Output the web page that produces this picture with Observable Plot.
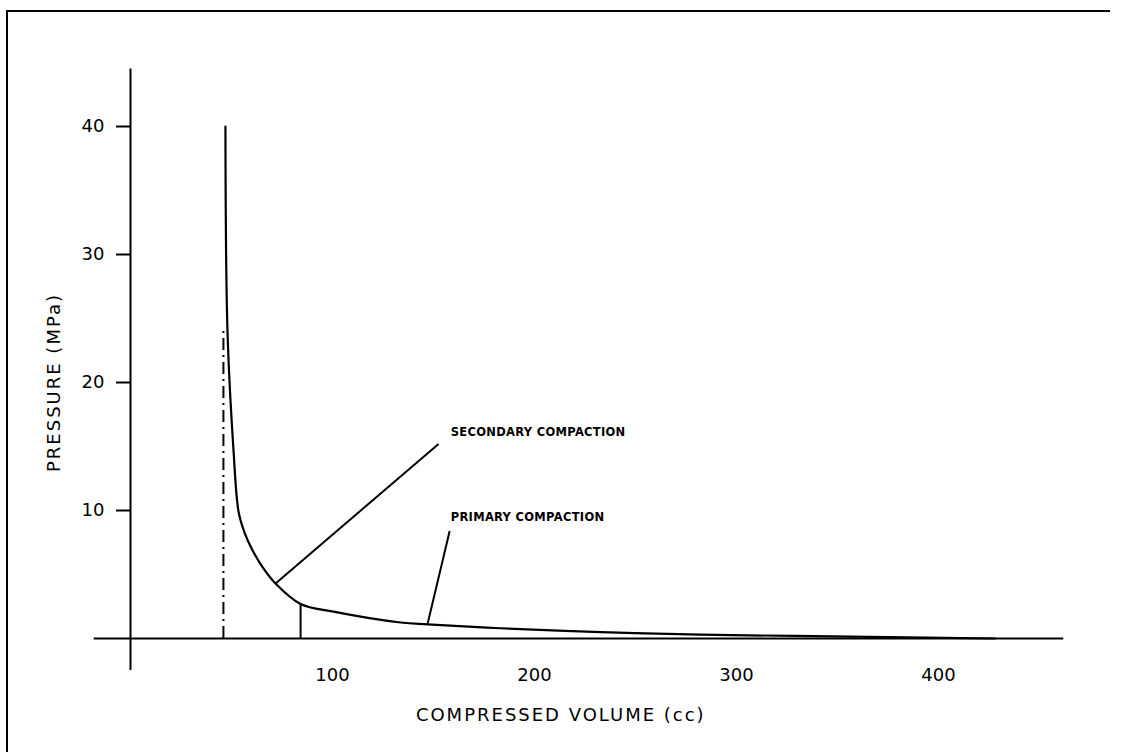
<!DOCTYPE html>
<html>
<head>
<meta charset="utf-8">
<script src="https://cdn.jsdelivr.net/npm/d3@7"></script>
<script src="https://cdn.jsdelivr.net/npm/@observablehq/plot@0.6"></script>
<style>
  html, body { margin: 0; padding: 0; background: #fff; overflow: hidden; }
  #wrap { width: 1128px; height: 752px; overflow: hidden; }
  svg g.biglabel text { letter-spacing: 2px; }
  svg g.note text { letter-spacing: 0.3px; }
</style>
</head>
<body>
<div id="wrap"></div>
<script>
// Compression curve
const volume   = [47, 48, 51, 53.5, 56.4, 60.4, 65.3, 71.8, 84.2, 100.5, 133.7, 147, 183, 233, 282, 356, 428];
const pressure = [40, 24.1, 14.7, 9.9, 8.3, 6.9, 5.6, 4.3, 2.7, 2.1, 1.25, 1.1, 0.8, 0.5, 0.3, 0.15, 0];

// Tick values
const xTicks = [100, 200, 300, 400];
const yTicks = [10, 20, 30, 40];

// Axis labels
const xLabel = "COMPRESSED VOLUME (cc)";
const yLabel = "PRESSURE (MPa)";

// Markers: dash-dot limit and small vertical marker
const limitVolume = [46];
const limitTop = [24.1];
const markVolume = [84.2];
const markTop = [2.7];

// Annotations
const noteText = ["SECONDARY COMPACTION", "PRIMARY COMPACTION"];
const noteCurveX = [71.8, 147];
const noteCurveY = [4.3, 1.1];
const noteEndX = [152.5, 158];
const noteEndY = [15.2, 8.4];
const noteTextX = [158.5, 158.5];
const noteTextY = [16.1, 9.45];

const curve = volume.map((v, i) => ({v, p: pressure[i]}));
const notes = noteText.map((t, i) => ({t, x1: noteCurveX[i], y1: noteCurveY[i], x2: noteEndX[i], y2: noteEndY[i], tx: noteTextX[i], ty: noteTextY[i]}));

const chart = Plot.plot({
  width: 1128,
  height: 752,
  marginLeft: 130,
  marginBottom: 114,
  marginTop: 60,
  marginRight: 60,
  x: {domain: [0, 400], range: [130, 938]},
  y: {domain: [0, 40], range: [638, 126]},
  style: {fontFamily: "DejaVu Sans", fontSize: "18px", background: "#fff", color: "#000"},
  marks: [
    // axis lines
    Plot.ruleX([0], {y1: -2.5, y2: 44.5, stroke: "#000", strokeWidth: 2}),
    Plot.ruleY([0], {x1: -18, x2: 462, stroke: "#000", strokeWidth: 2}),
    Plot.axisY(yTicks, {tickSize: 14, tickPadding: 12, label: null, fontSize: 18, strokeWidth: 2}),
    Plot.axisX(xTicks, {tickSize: 0, tickPadding: 30, label: null, fontSize: 18}),
    // dash-dot limit
    Plot.ruleX(limitVolume, {x: d => d, y1: 0, y2: (d, i) => limitTop[i], stroke: "#000", strokeWidth: 2, strokeDasharray: "12,5,2,5"}),
    // small marker
    Plot.ruleX(markVolume, {x: d => d, y1: 0, y2: (d, i) => markTop[i], stroke: "#000", strokeWidth: 2}),
    // curve
    Plot.line(curve, {x: "v", y: "p", curve: "catmull-rom", stroke: "#000", strokeWidth: 2.2}),
    // leaders
    Plot.link(notes, {x1: "x1", y1: "y1", x2: "x2", y2: "y2", stroke: "#000", strokeWidth: 2}),
    Plot.text(notes, {x: "tx", y: "ty", text: "t", textAnchor: "start", fontSize: 11.5, fontWeight: "bold", className: "note"}),
    // axis labels
    Plot.text([xLabel], {x: 213, y: -6, text: d => d, fontSize: 18, className: "biglabel"}),
    Plot.text([yLabel], {x: -38, y: 20, text: d => d, rotate: -90, fontSize: 18, className: "biglabel"})
  ]
});
// page frame (top and left edges only, as in the scanned figure)
d3.select(chart).append("path")
  .attr("d", "M7,752V11H1110")
  .attr("fill", "none").attr("stroke", "#000").attr("stroke-width", 2);
document.getElementById("wrap").appendChild(chart);
</script>
</body>
</html>
